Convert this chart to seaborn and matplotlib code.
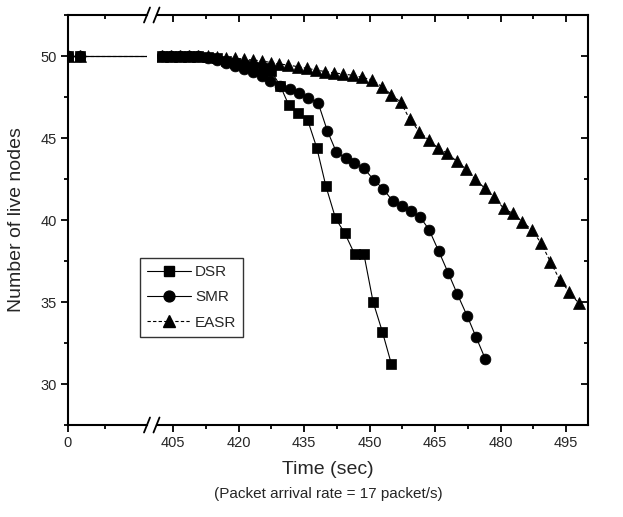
import matplotlib
matplotlib.use('Agg')
import matplotlib.pyplot as plt
import seaborn as sns
import pandas as pd
from matplotlib.lines import Line2D
from matplotlib.ticker import FixedLocator

# ---------------- data ----------------
protocols = ['DSR', 'SMR', 'EASR']

dsr_x = [0, 2.5, 402.4, 404.5, 406.6, 408.7, 410.8, 412.9, 415.0, 417.1, 419.2, 421.3,
         423.4, 425.5, 427.4, 429.5, 431.5, 433.6, 435.8, 437.9, 440.0, 442.2, 444.3,
         446.6, 448.7, 450.8, 452.9, 455.0]
dsr_y = [50, 50, 50, 50, 50, 50, 50, 49.95, 49.85, 49.7, 49.55, 49.45,
         49.35, 49.25, 49.1, 48.2, 47.0, 46.5, 46.1, 44.4, 42.05, 40.1, 39.2,
         37.9, 37.9, 35.0, 33.2, 31.2]

smr_x = [0, 2.5, 402.4, 404.5, 406.6, 408.7, 410.8, 412.9, 415.0, 417.1, 419.2, 421.3,
         423.4, 425.3, 427.3, 429.5, 431.7, 433.9, 436.0, 438.2, 440.3, 442.4, 444.5,
         446.5, 448.7, 450.9, 453.1, 455.3, 457.3, 459.4, 461.5, 463.6, 465.8, 468.0,
         470.1, 472.3, 474.4, 476.5]
smr_y = [50, 50, 50, 50, 50, 50, 50, 49.9, 49.75, 49.6, 49.4, 49.2,
         49.0, 48.8, 48.5, 48.2, 48.0, 47.75, 47.45, 47.15, 45.45, 44.13, 43.78,
         43.48, 43.15, 42.46, 41.9, 41.15, 40.88, 40.54, 40.21, 39.41, 38.11, 36.77,
         35.47, 34.17, 32.84, 31.52]

easr_x = [0, 2.5, 402.4, 404.5, 406.6, 408.7, 410.8, 412.9, 415.0, 417.1, 419.2, 421.3,
          423.4, 425.4, 427.4, 429.3, 431.4, 433.5, 435.6, 437.7, 439.8, 441.9, 444.0,
          446.2, 448.3, 450.6, 452.8, 455.0, 457.1, 459.2, 461.4, 463.5, 465.6, 467.7,
          469.9, 472.1, 474.2, 476.4, 478.5, 480.7, 482.8, 485.0, 487.2, 489.3, 491.4,
          493.5, 495.7, 497.9]
easr_y = [50, 50, 50, 50, 50, 50, 50, 50, 49.95, 49.9, 49.85, 49.8,
          49.75, 49.7, 49.6, 49.51, 49.45, 49.35, 49.25, 49.15, 49.05, 48.97, 48.9,
          48.82, 48.7, 48.54, 48.13, 47.65, 47.18, 46.14, 45.38, 44.88, 44.41, 44.07,
          43.6, 43.09, 42.48, 41.93, 41.38, 40.71, 40.4, 39.89, 39.38, 38.57, 37.45,
          36.37, 35.62, 34.91]

x_major_right = [405, 420, 435, 450, 465, 480, 495]
x_minor_right = [412.5, 427.5, 442.5, 457.5, 472.5, 487.5]
x_major_left = [0]
x_minor_left = [7.5]
y_major = [30, 35, 40, 45, 50]
y_minor = [27.5, 32.5, 37.5, 42.5, 47.5, 52.5]

xlabel_text = 'Time (sec)'
subtitle_text = '(Packet arrival rate = 17 packet/s)'
ylabel_text = 'Number of live nodes'

# ---------------- style ----------------
sns.set_theme(style='ticks')
plt.rcParams['font.family'] = ['Liberation Sans', 'DejaVu Sans']
plt.rcParams['axes.linewidth'] = 1.5

W, H = 623, 517
fig = plt.figure(figsize=(W / 100, H / 100), dpi=100)


def fx(px):
    return px / W


def fy(py):
    return 1 - py / H


top_px, bot_px = 15, 425
left_px, brk1_px, brk2_px, right_px = 68, 147, 156.5, 588

axL = fig.add_axes([fx(left_px), fy(bot_px), (brk1_px - left_px) / W, (bot_px - top_px) / H])
axR = fig.add_axes([fx(brk2_px), fy(bot_px), (right_px - brk2_px) / W, (bot_px - top_px) / H])

series = {
    'DSR': (dsr_x, dsr_y, 's', '-', 7.2),
    'SMR': (smr_x, smr_y, 'o', '-', 7.8),
    'EASR': (easr_x, easr_y, '^', (0, (3, 2)), 8.4),
}

for ax in (axL, axR):
    for name in protocols:
        xs, ys, mk, ls, ms = series[name]
        df = pd.DataFrame({'time': xs, 'nodes': ys})
        sns.lineplot(data=df, x='time', y='nodes', ax=ax, sort=False, estimator=None,
                     color='black', marker=mk, markersize=ms, linestyle=ls,
                     linewidth=0.8, markeredgecolor='black', markeredgewidth=0.5,
                     legend=False)
    ax.set_ylim(27.5, 52.5)
    ax.set_xlabel('')
    ax.set_ylabel('')

axL.set_xlim(0, 16)
axR.set_xlim(401.2, 500)

for ax, xmaj, xmin_ in ((axL, x_major_left, x_minor_left), (axR, x_major_right, x_minor_right)):
    ax.xaxis.set_major_locator(FixedLocator(xmaj))
    ax.xaxis.set_minor_locator(FixedLocator(xmin_))
    ax.tick_params(axis='x', which='both', direction='out', bottom=True, top=False,
                   width=1.3, color='black', labelsize=10.5, pad=3)
    ax.tick_params(axis='x', which='major', length=5)
    ax.tick_params(axis='x', which='minor', length=3)
    sec = ax.secondary_xaxis('top')
    sec.xaxis.set_major_locator(FixedLocator(xmaj))
    sec.xaxis.set_minor_locator(FixedLocator(xmin_))
    sec.tick_params(axis='x', which='both', direction='in', labeltop=False, width=1.3,
                    color='black')
    sec.tick_params(axis='x', which='major', length=5)
    sec.tick_params(axis='x', which='minor', length=3)
    sec.spines['top'].set_visible(False)
    for s in ax.spines.values():
        s.set_color('black')

axL.spines['right'].set_visible(False)
axR.spines['left'].set_visible(False)

axL.yaxis.set_major_locator(FixedLocator(y_major))
axL.yaxis.set_minor_locator(FixedLocator(y_minor))
axL.tick_params(axis='y', which='both', direction='out', left=True, right=False,
                width=1.3, color='black', labelsize=10.5, pad=3)
axL.tick_params(axis='y', which='major', length=5)
axL.tick_params(axis='y', which='minor', length=3)

axR.tick_params(axis='y', which='both', left=False, right=False, labelleft=False)
secy = axR.secondary_yaxis('right')
secy.yaxis.set_major_locator(FixedLocator(y_major))
secy.yaxis.set_minor_locator(FixedLocator(y_minor))
secy.tick_params(axis='y', which='both', direction='in', labelright=False, width=1.3,
                 color='black')
secy.tick_params(axis='y', which='major', length=5)
secy.tick_params(axis='y', which='minor', length=3)
secy.spines['right'].set_visible(False)

# break marks
for cx in (brk1_px, brk2_px):
    for cy in (top_px, bot_px):
        fig.add_artist(Line2D([fx(cx - 3), fx(cx + 3)], [fy(cy + 7.5), fy(cy - 7.5)],
                              transform=fig.transFigure, color='black', lw=1.3))

# labels
axes_cx = (left_px + right_px) / 2
fig.text(fx(axes_cx), fy(469), xlabel_text, ha='center', va='center', fontsize=14)
fig.text(fx(axes_cx), fy(494), subtitle_text, ha='center', va='center', fontsize=11)
fig.text(fx(17), fy((top_px + bot_px) / 2), ylabel_text, rotation=90,
         ha='center', va='center', fontsize=14)

# legend
handles = [Line2D([], [], color='black', lw=0.8, linestyle=series[n][3], marker=series[n][2],
                  markersize=series[n][4], markeredgecolor='black') for n in protocols]
leg = fig.legend(handles, protocols, loc='upper left', bbox_to_anchor=(fx(140), fy(258)),
                 fontsize=11, frameon=True, fancybox=False, edgecolor='black',
                 handlelength=2.9, handletextpad=0.25, labelspacing=0.75,
                 borderpad=0.45, borderaxespad=0)
leg.get_frame().set_linewidth(1.0)

fig.savefig('out.png', dpi=100)
